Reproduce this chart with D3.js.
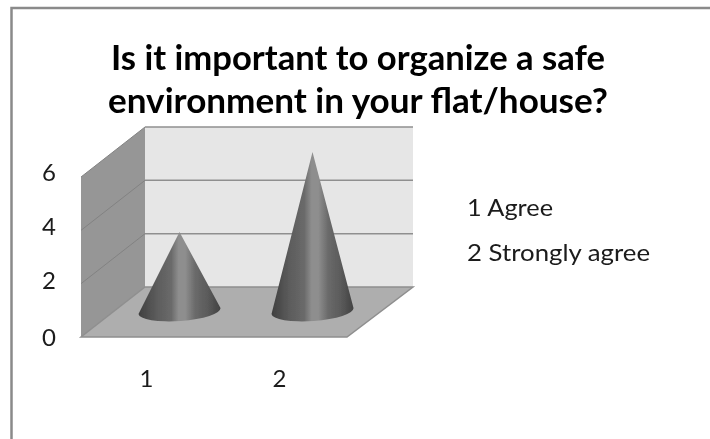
<!DOCTYPE html>
<meta charset="utf-8">
<style>
html, body { margin: 0; background: #fff; }
text { font-family: Lato, Carlito, sans-serif; fill: #1a1a1a; }
</style>
<svg></svg>
<script src="https://cdn.jsdelivr.net/npm/d3@7"></script>
<script>

var categories = ["1", "2"];
var values = [3, 6];
var legendLabels = ["1 Agree", "2 Strongly agree"];
var yTicks = [0, 2, 4, 6];
var titleLines = ["Is it important to organize a safe", "environment in your flat/house?"];

var width = 710, height = 439;

var svg = d3.select("svg")
    .attr("width", width)
    .attr("height", height)
    .style("display", "block");

var defs = svg.append("defs");

var soft = defs.append("filter").attr("id", "soft");
soft.append("feGaussianBlur").attr("stdDeviation", 0.45);

var grad = defs.append("linearGradient").attr("id", "cone");
[[0, "#3f3f3f"], [0.22, "#5c5c5c"], [0.4, "#6a6a6a"], [0.49, "#8e8e8e"], [0.57, "#8e8e8e"], [0.69, "#6a6a6a"], [0.85, "#5a5a5a"], [1, "#424242"]]
  .forEach(function(s) {
    grad.append("stop").attr("offset", s[0]).attr("stop-color", s[1]);
  });

// chart frame, only top and left show in the picture
svg.append("path")
    .attr("d", "M11.5,439V8H710")
    .attr("fill", "none")
    .attr("stroke", "#8a8a8a")
    .attr("stroke-width", 2.5);

var dx = 64, dy = 50; // 3d depth offset
var x = d3.scaleBand().domain(categories).range([81, 347]);
var y = d3.scaleLinear().domain([0, 6]).range([337, 177]);

var g = svg.append("g").attr("filter", "url(#soft)");

// side wall
g.append("path")
    .attr("d", "M" + x.range()[0] + "," + y(0) + "V" + y(6) + "L" + (x.range()[0] + dx) + "," + (y(6) - dy) + "V" + (y(0) - dy) + "Z")
    .attr("fill", "#969696");

// back wall
g.append("rect")
    .attr("x", x.range()[0] + dx)
    .attr("y", y(6) - dy)
    .attr("width", x.range()[1] - x.range()[0] + 2)
    .attr("height", y(0) - y(6))
    .attr("fill", "#e6e6e6");

// floor
g.append("path")
    .attr("d", "M" + x.range()[0] + "," + y(0) + "H" + x.range()[1] + "L" + (x.range()[1] + dx + 2) + "," + (y(0) - dy) + "H" + (x.range()[0] + dx) + "Z")
    .attr("fill", "#aeaeae")
    .attr("stroke", "#8f8f8f")
    .attr("stroke-width", 1.5);

// gridlines, back wall part
g.selectAll(".grid")
  .data(yTicks.slice(1))
  .enter().append("path")
    .attr("class", "grid")
    .attr("d", function(d) {
      return "M" + (x.range()[0] + dx) + "," + (y(d) - dy) + "H" + (x.range()[1] + dx + 2);
    })
    .attr("fill", "none")
    .attr("stroke", "#8f8f8f")
    .attr("stroke-width", 1.5);

// gridlines on the side wall are fainter
g.selectAll(".gridside")
  .data(yTicks.slice(1))
  .enter().append("line")
    .attr("class", "gridside")
    .attr("x1", x.range()[0])
    .attr("y1", function(d) { return y(d); })
    .attr("x2", x.range()[0] + dx)
    .attr("y2", function(d) { return y(d) - dy; })
    .attr("stroke", "#828282")
    .attr("stroke-width", 1);

// cones, base is a little tilted
var rx = 41, ry = 10, tilt = -4;
g.selectAll(".cone")
  .data(values)
  .enter().append("path")
    .attr("class", "cone")
    .attr("d", function(d, i) {
      var cx = x(categories[i]) + x.bandwidth() / 2 + dx / 2;
      var by = y(0) - dy / 2 - 1;
      var top = y(d) - dy / 2;
      return "M" + cx + "," + top + "L" + (cx + rx) + "," + (by - 3) +
        "A" + rx + "," + ry + " " + tilt + " 0 1 " + (cx - rx) + "," + (by + 3) + "Z";
    })
    .attr("fill", "url(#cone)");

var labels = svg.append("g").attr("filter", "url(#soft)");

labels.selectAll(".ytick")
  .data(yTicks)
  .enter().append("text")
    .attr("class", "ytick")
    .attr("x", 49)
    .attr("y", function(d) { return y(d) + (d === 0 ? 9 : d === 6 ? 4 : 5); })
    .attr("text-anchor", "middle")
    .attr("font-size", 24)
    .text(function(d) { return d; });

labels.selectAll(".xtick")
  .data(categories)
  .enter().append("text")
    .attr("class", "xtick")
    .attr("x", function(d) { return x(d) + x.bandwidth() / 2 - 1; })
    .attr("y", 387)
    .attr("text-anchor", "middle")
    .attr("font-size", 24)
    .text(function(d) { return d; });

labels.selectAll(".legend")
  .data(legendLabels)
  .enter().append("text")
    .attr("class", "legend")
    .attr("x", 467)
    .attr("y", function(d, i) { return 216 + i * 45; })
    .attr("font-size", 23)
    .attr("textLength", function(d, i) { return i ? 183 : 86; })
    .attr("lengthAdjust", "spacingAndGlyphs")
    .text(function(d) { return d; });

labels.selectAll(".title")
  .data(titleLines)
  .enter().append("text")
    .attr("class", "title")
    .attr("x", 358)
    .attr("y", function(d, i) { return 70 + i * 43; })
    .attr("text-anchor", "middle")
    .attr("font-size", 34)
    .attr("font-weight", 700)
    .attr("textLength", function(d, i) { return i ? 500 : 494; })
    .attr("lengthAdjust", "spacingAndGlyphs")
    .style("fill", "#000")
    .text(function(d) { return d; });

</script>
